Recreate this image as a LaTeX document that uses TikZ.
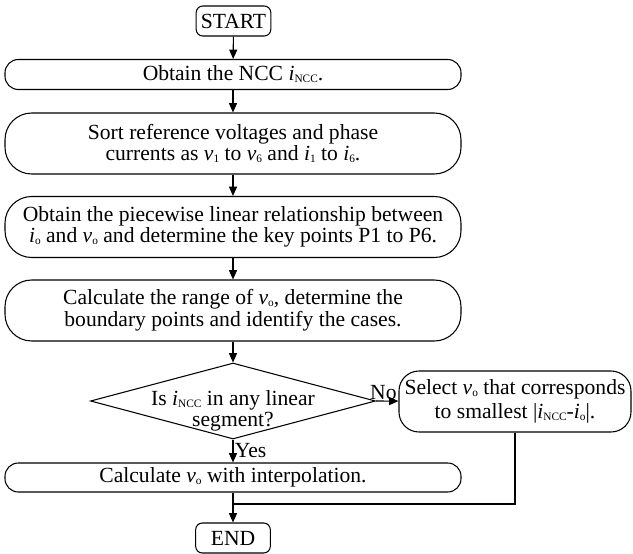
\documentclass[tikz,border=0pt]{standalone}
\usepackage{fontspec}
\setmainfont{Liberation Serif}
\usetikzlibrary{shapes.geometric,arrows.meta}
\newcommand{\lo}[1]{\raisebox{-0.2ex}{\fontsize{8.5}{9}\selectfont #1}}
\newcommand{\iNCC}{\textit{i}\lo{NCC}}

\begin{document}
\begin{tikzpicture}[x=0.75pt,y=0.75pt,yscale=-1,xscale=1,
  font=\fontsize{16.2}{16.2}\selectfont, line width=0.8pt,
  terminal/.style={draw, rounded corners=5pt, minimum width=56pt, minimum height=22.5pt, inner sep=0pt},
  process/.style={draw, rounded corners=20pt, minimum width=342pt, minimum height=45.75pt, inner sep=0pt, align=center},
  slim/.style={process, rounded corners=10pt, minimum height=22.5pt},
  decision/.style={draw, diamond, minimum width=213.75pt, minimum height=57pt, inner sep=0pt},
  flow/.style={-{Triangle[length=7pt,width=6pt]}}]
\useasboundingbox (0,0) rectangle (633,554);

% Terminal
\node [terminal] (start) at (233.5,21) {START};
% Process
\node [slim] (obtain) at (233,74.5) {Obtain the NCC \iNCC.};
% Process
\node [process] (sort) at (233,143.5) {Sort reference voltages and phase\\currents as \textit{v}\lo{1} to \textit{v}\lo{6} and \textit{i}\lo{1} to \textit{i}\lo{6}.};
% Process
\node [process] (relation) at (233,227) {Obtain the piecewise linear relationship between\\\textit{i}\lo{o} and \textit{v}\lo{o} and determine the key points P1 to P6.};
% Process
\node [process] (range) at (233,310.5) {Calculate the range of \textit{v}\lo{o}, determine the\\boundary points and identify the cases.};
% Decision
\node [decision] (test) at (233,401) {};
\node [align=center, inner sep=0pt] (testtext) at (233,411) {Is \iNCC\ in any linear\\segment?};
% Process
\node [process, minimum width=174pt, rounded corners=15pt] (select) at (515,401.5) {Select \textit{v}\lo{o} that corresponds\\[1.5pt]to smallest |\iNCC-\textit{i}\lo{o}|.};
% Process
\node [slim, minimum height=21.75pt] (interp) at (233,477.5) {Calculate \textit{v}\lo{o} with interpolation.};
% Terminal
\node [terminal] (stop) at (233,538) {END};
\coordinate (merge) at (233,504);

%Straight Lines
\draw [flow] (start) -- (obtain);
\draw [flow] (obtain) -- (sort);
\draw [flow] (sort) -- (relation);
\draw [flow] (relation) -- (range);
\draw [flow] (range) -- (test);
\draw [flow] (test.east) -- node [pos=1, above left, inner sep=1pt] {No} (select);
\draw [flow] (test.south) -- node [right, inner sep=1pt] {Yes} (interp);
\draw [flow] (interp) -- (stop);
\draw (select) |- (merge);

\end{tikzpicture}
\end{document}
